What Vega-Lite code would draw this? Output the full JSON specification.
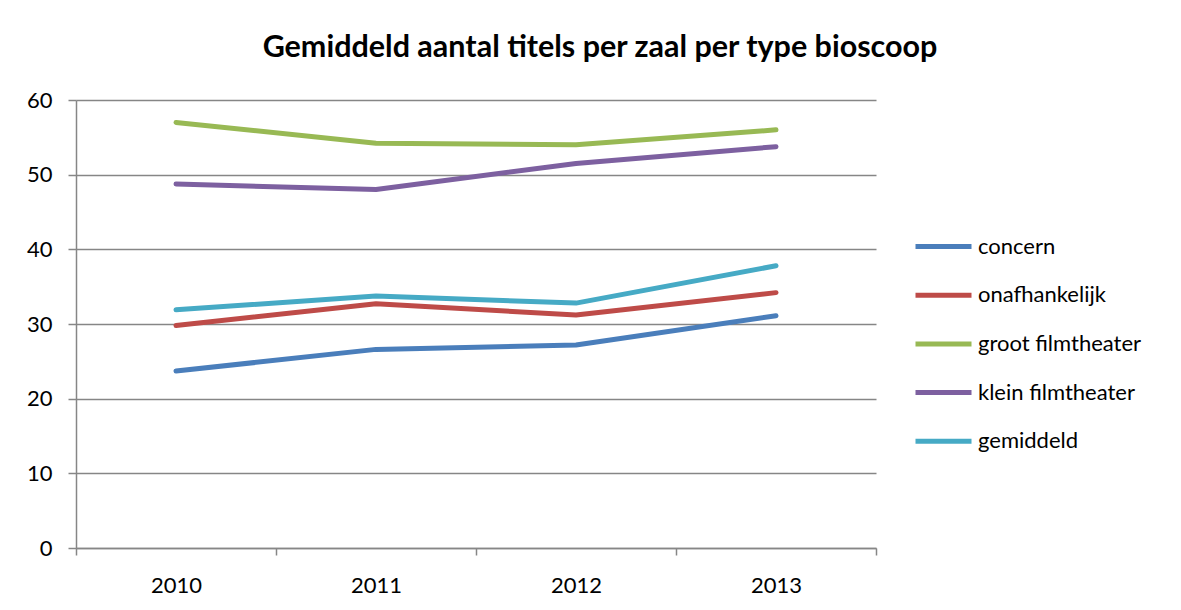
{
  "$schema": "https://vega.github.io/schema/vega-lite/v6.json",
  "autosize": {"type": "none"},
  "padding": {"left": 76, "top": 100, "right": 305, "bottom": 62},
  "width": 800,
  "height": 448,
  "background": "white",
  "title": {
    "text": "Gemiddeld aantal titels per zaal per type bioscoop",
    "font": "Lato",
    "fontSize": 30.5,
    "fontWeight": "bold",
    "color": "black",
    "anchor": "middle",
    "frame": "group",
    "dx": 124,
    "offset": 26
  },
  "data": {
    "values": [
      {"jaar": "2010", "type": "concern", "waarde": 23.7},
      {"jaar": "2011", "type": "concern", "waarde": 26.6},
      {"jaar": "2012", "type": "concern", "waarde": 27.2},
      {"jaar": "2013", "type": "concern", "waarde": 31.1},
      {"jaar": "2010", "type": "onafhankelijk", "waarde": 29.8},
      {"jaar": "2011", "type": "onafhankelijk", "waarde": 32.7},
      {"jaar": "2012", "type": "onafhankelijk", "waarde": 31.2},
      {"jaar": "2013", "type": "onafhankelijk", "waarde": 34.2},
      {"jaar": "2010", "type": "groot filmtheater", "waarde": 57.0},
      {"jaar": "2011", "type": "groot filmtheater", "waarde": 54.2},
      {"jaar": "2012", "type": "groot filmtheater", "waarde": 54.0},
      {"jaar": "2013", "type": "groot filmtheater", "waarde": 56.0},
      {"jaar": "2010", "type": "klein filmtheater", "waarde": 48.75},
      {"jaar": "2011", "type": "klein filmtheater", "waarde": 48.0},
      {"jaar": "2012", "type": "klein filmtheater", "waarde": 51.5},
      {"jaar": "2013", "type": "klein filmtheater", "waarde": 53.75},
      {"jaar": "2010", "type": "gemiddeld", "waarde": 31.9},
      {"jaar": "2011", "type": "gemiddeld", "waarde": 33.75},
      {"jaar": "2012", "type": "gemiddeld", "waarde": 32.8},
      {"jaar": "2013", "type": "gemiddeld", "waarde": 37.8}
    ]
  },
  "mark": {"type": "line", "strokeWidth": 5, "strokeCap": "round", "strokeJoin": "round"},
  "encoding": {
    "x": {
      "field": "jaar",
      "type": "ordinal",
      "bandPosition": 0.5,
      "scale": {"type": "band", "paddingInner": 0, "paddingOuter": 0},
      "axis": {
        "title": null,
        "tickBand": "extent",
        "labelAngle": 0,
        "labelFont": "Lato",
        "labelFontSize": 22,
        "labelColor": "black",
        "labelPadding": 20,
        "domainColor": "#868686",
        "domainWidth": 1.5,
        "tickColor": "#868686",
        "tickWidth": 1.5,
        "tickSize": 7,
        "grid": false
      }
    },
    "y": {
      "field": "waarde",
      "type": "quantitative",
      "scale": {"domain": [0, 60], "nice": false},
      "axis": {
        "title": null,
        "values": [0, 10, 20, 30, 40, 50, 60],
        "labelFont": "Lato",
        "labelFontSize": 22,
        "labelColor": "black",
        "labelPadding": 16,
        "domainColor": "#868686",
        "domainWidth": 1.5,
        "tickColor": "#868686",
        "tickWidth": 1.5,
        "tickSize": 8,
        "grid": true,
        "gridColor": "#868686",
        "gridWidth": 1.5,
        "gridOpacity": 1
      }
    },
    "color": {
      "field": "type",
      "type": "nominal",
      "sort": ["concern", "onafhankelijk", "groot filmtheater", "klein filmtheater", "gemiddeld"],
      "scale": {
        "domain": ["concern", "onafhankelijk", "groot filmtheater", "klein filmtheater", "gemiddeld"],
        "range": ["#4A7EBB", "#BE4B48", "#98B954", "#7D60A0", "#46AAC5"]
      },
      "legend": {
        "title": null,
        "orient": "none",
        "legendX": 851,
        "legendY": 130,
        "padding": 0,
        "symbolType": "M-2,0H2",
        "symbolSize": 784,
        "symbolStrokeWidth": 5,
        "symbolFillColor": "transparent",
        "labelFont": "Lato",
        "labelFontSize": 22,
        "labelColor": "black",
        "labelOffset": 18,
        "rowPadding": 20.7,
        "labelLimit": 300
      }
    }
  },
  "config": {
    "view": {"stroke": null},
    "axis": {"labelFontWeight": "normal"}
  }
}
